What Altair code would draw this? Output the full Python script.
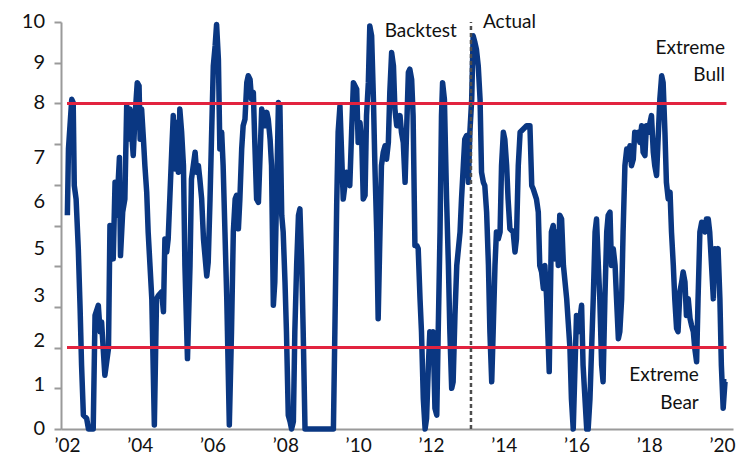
import altair as alt
import pandas as pd

# Sentiment score readings (decimal year, score 0-10)
years = [
    2002.01, 2002.04, 2002.13, 2002.17, 2002.20, 2002.25, 2002.31, 2002.36, 2002.40, 2002.45,
    2002.54, 2002.59, 2002.72, 2002.77, 2002.86, 2002.91, 2002.95, 2003.04, 2003.14, 2003.18,
    2003.23, 2003.27, 2003.32, 2003.36, 2003.44, 2003.47, 2003.53, 2003.59, 2003.64, 2003.68,
    2003.73, 2003.82, 2003.87, 2003.93, 2003.98, 2004.01, 2004.05, 2004.10, 2004.14, 2004.19,
    2004.23, 2004.33, 2004.40, 2004.46, 2004.51, 2004.60, 2004.65, 2004.69, 2004.74, 2004.78,
    2004.88, 2004.92, 2004.97, 2005.01, 2005.06, 2005.10, 2005.15, 2005.20, 2005.24, 2005.31,
    2005.38, 2005.42, 2005.52, 2005.56, 2005.61, 2005.65, 2005.70, 2005.75, 2005.84, 2005.88,
    2005.93, 2005.97, 2006.02, 2006.07, 2006.11, 2006.16, 2006.20, 2006.25, 2006.29, 2006.34,
    2006.39, 2006.46, 2006.52, 2006.57, 2006.62, 2006.66, 2006.71, 2006.75, 2006.80, 2006.84,
    2006.89, 2006.94, 2006.98, 2007.03, 2007.07, 2007.12, 2007.16, 2007.21, 2007.26, 2007.35,
    2007.44, 2007.49, 2007.53, 2007.58, 2007.62, 2007.67, 2007.71, 2007.81, 2007.85, 2007.90,
    2007.94, 2007.99, 2008.03, 2008.08, 2008.13, 2008.17, 2008.22, 2008.26, 2008.31, 2008.36,
    2008.40, 2008.45, 2008.49, 2008.54, 2009.32, 2009.36, 2009.41, 2009.45, 2009.50, 2009.59,
    2009.68, 2009.77, 2009.82, 2009.87, 2009.96, 2010.00, 2010.05, 2010.10, 2010.14, 2010.19,
    2010.23, 2010.28, 2010.32, 2010.37, 2010.42, 2010.46, 2010.51, 2010.55, 2010.60, 2010.64,
    2010.69, 2010.74, 2010.78, 2010.83, 2010.87, 2010.92, 2010.97, 2011.01, 2011.06, 2011.10,
    2011.15, 2011.19, 2011.24, 2011.29, 2011.33, 2011.38, 2011.42, 2011.47, 2011.51, 2011.56,
    2011.61, 2011.65, 2011.70, 2011.74, 2011.79, 2011.84, 2011.88, 2011.93, 2011.97, 2012.02,
    2012.06, 2012.11, 2012.16, 2012.20, 2012.25, 2012.29, 2012.32, 2012.37, 2012.43, 2012.48,
    2012.52, 2012.57, 2012.61, 2012.66, 2012.71, 2012.80, 2012.84, 2012.89, 2012.93, 2012.98,
    2013.03, 2013.07, 2013.12, 2013.16, 2013.21, 2013.25, 2013.30, 2013.35, 2013.39, 2013.44,
    2013.48, 2013.53, 2013.58, 2013.62, 2013.67, 2013.71, 2013.76, 2013.80, 2013.85, 2013.90,
    2013.94, 2013.99, 2014.03, 2014.08, 2014.12, 2014.17, 2014.26, 2014.31, 2014.35, 2014.40,
    2014.45, 2014.54, 2014.63, 2014.72, 2014.77, 2014.81, 2014.90, 2014.95, 2014.99, 2015.04,
    2015.09, 2015.13, 2015.18, 2015.25, 2015.31, 2015.36, 2015.41, 2015.45, 2015.50, 2015.54,
    2015.59, 2015.64, 2015.73, 2015.82, 2015.86, 2015.91, 2015.96, 2016.00, 2016.05, 2016.14,
    2016.18, 2016.28, 2016.32, 2016.37, 2016.46, 2016.51, 2016.55, 2016.60, 2016.64, 2016.69,
    2016.73, 2016.78, 2016.83, 2016.87, 2016.92, 2016.96, 2017.01, 2017.06, 2017.10, 2017.15,
    2017.19, 2017.24, 2017.28, 2017.33, 2017.38, 2017.42, 2017.47, 2017.51, 2017.56, 2017.60,
    2017.65, 2017.70, 2017.74, 2017.79, 2017.83, 2017.88, 2017.92, 2017.97, 2018.02, 2018.06,
    2018.11, 2018.15, 2018.20, 2018.25, 2018.29, 2018.34, 2018.38, 2018.43, 2018.47, 2018.52,
    2018.57, 2018.61, 2018.66, 2018.70, 2018.75, 2018.79, 2018.84, 2018.89, 2018.93, 2018.98,
    2019.02, 2019.07, 2019.12, 2019.16, 2019.21, 2019.25, 2019.30, 2019.34, 2019.39, 2019.44,
    2019.48, 2019.53, 2019.57, 2019.62, 2019.66, 2019.71, 2019.76, 2019.80, 2019.85, 2019.89,
    2019.94, 2019.98, 2020.03, 2020.08, 2020.12,
]
scores = [
    5.25, 6.88, 8.10, 8.02, 5.98, 5.65, 4.43, 2.96, 1.57, 0.34,
    0.26, 0.00, 0.00, 2.79, 3.04, 2.39, 2.63, 1.32, 1.98, 5.00,
    4.92, 4.18, 6.06, 5.25, 6.67, 4.26, 5.33, 5.65, 7.94, 7.12,
    7.86, 6.72, 7.70, 8.51, 8.43, 7.12, 7.86, 7.12, 6.47, 5.82,
    4.84, 3.20, 0.10, 3.20, 3.28, 3.37, 2.88, 4.67, 4.35, 4.67,
    6.88, 7.70, 6.39, 7.53, 6.31, 7.86, 7.29, 6.47, 4.02, 1.73,
    4.02, 6.14, 6.80, 6.31, 6.47, 6.14, 5.65, 4.67, 3.76, 4.10,
    5.65, 7.12, 8.92, 9.41, 9.94, 9.08, 6.88, 7.29, 6.47, 4.84,
    3.20, 0.10, 2.39, 4.84, 5.65, 5.74, 4.92, 5.65, 6.88, 7.45,
    7.61, 8.51, 8.68, 8.59, 8.10, 8.27, 7.04, 5.65, 5.57, 7.86,
    7.45, 7.78, 7.61, 7.12, 6.47, 3.04, 3.61, 8.02, 7.94, 5.25,
    4.84, 3.61, 2.39, 0.34, 0.18, 0.00, 0.18, 2.39, 4.02, 5.25,
    5.41, 4.02, 2.39, 0.00, 0.00, 2.39, 5.49, 7.29, 7.94, 5.65,
    6.31, 5.98, 7.29, 8.51, 8.35, 7.04, 7.53, 7.04, 5.65, 5.74,
    7.70, 8.51, 9.90, 9.66, 8.10, 6.47, 4.84, 2.71, 4.84, 6.47,
    6.80, 6.96, 6.63, 7.04, 8.27, 9.25, 8.92, 7.86, 7.45, 7.45,
    7.70, 7.29, 7.04, 6.06, 7.29, 8.76, 8.84, 8.59, 7.70, 4.51,
    4.51, 4.43, 3.20, 2.39, 0.75, 0.00, 0.26, 1.57, 2.39, 2.30,
    2.39, 0.51, 0.34, 2.39, 4.84, 7.70, 8.51, 8.10, 5.65, 4.02,
    2.39, 1.00, 1.16, 2.79, 4.02, 4.84, 5.65, 6.47, 7.12, 7.21,
    6.06, 7.29, 8.10, 9.66, 9.49, 9.33, 8.92, 8.10, 6.31, 6.06,
    5.98, 5.33, 4.02, 2.39, 1.16, 2.39, 4.02, 4.84, 4.67, 4.84,
    6.47, 7.29, 7.12, 6.47, 5.65, 4.92, 4.84, 4.35, 4.67, 6.47,
    7.29, 7.37, 7.45, 7.45, 5.98, 5.90, 5.65, 5.33, 4.02, 3.86,
    3.45, 4.02, 3.20, 1.41, 4.84, 5.00, 4.18, 4.84, 4.02, 5.25,
    5.16, 4.02, 3.20, 1.98, 0.75, 0.00, 1.57, 2.79, 2.39, 3.04,
    1.57, 0.00, 0.00, 0.75, 3.20, 4.84, 5.16, 4.02, 3.20, 1.57,
    1.16, 3.20, 4.84, 5.25, 5.33, 4.02, 4.43, 4.02, 3.20, 2.22,
    2.39, 3.20, 4.84, 6.47, 6.88, 6.63, 6.96, 6.47, 6.63, 7.29,
    7.12, 7.29, 7.04, 7.45, 6.80, 6.72, 7.45, 7.29, 7.53, 7.70,
    6.80, 6.47, 6.23, 7.29, 8.10, 8.68, 8.51, 7.29, 6.06, 5.65,
    5.82, 4.84, 4.02, 3.20, 2.47, 2.39, 3.37, 3.61, 3.86, 3.61,
    2.79, 3.20, 2.71, 2.55, 2.39, 1.98, 1.65, 3.20, 4.84, 5.08,
    5.00, 4.84, 5.16, 5.16, 4.84, 4.02, 3.20, 4.43, 4.35, 4.43,
    3.20, 1.57, 0.51, 1.16, 1.16,
]

bull_level = 8
bear_level = 2
level_years = [2002.0, 2020.12]
split_year = 2013.10

y_label_text = ["10", "9", "8", "7", "6", "5", "3", "2", "1", "0"]
y_label_pos = [10, 9, 8, 6.66, 5.58, 4.43, 3.28, 2.15, 1.08, 0]
y_tick_values = list(range(0, 11))
x_tick_years = list(range(2002, 2021, 2))

note_right_text = ["Backtest", "Extreme", "Bull", "Extreme", "Bear"]
note_right_year = [2012.71, 2020.08, 2020.08, 2019.36, 2019.36]
note_right_score = [9.77, 9.35, 8.69, 1.32, 0.64]
note_left_text = ["Actual"]
note_left_year = [2013.43]
note_left_score = [9.99]

FONT = "Lato"
BLUE = "#0a3782"
RED = "#e2233f"
AXIS_GREY = "#9a9a9a"
TEXT = "#111111"

n = min(len(years), len(scores))
df = pd.DataFrame({"year": years[:n], "score": scores[:n]})
levels = pd.DataFrame({
    "year": level_years * 2,
    "score": [bull_level] * 2 + [bear_level] * 2,
    "band": ["bull"] * 2 + ["bear"] * 2,
})
split = pd.DataFrame({"year": [split_year], "score": [0], "hi": [10]})
ylabels = pd.DataFrame({"label": y_label_text, "score": y_label_pos})
notes_r = pd.DataFrame({"year": note_right_year, "score": note_right_score, "text": note_right_text})
notes_l = pd.DataFrame({"year": note_left_year, "score": note_left_score, "text": note_left_text})

xscale = alt.Scale(domain=[2001.835, 2020.30], nice=False, zero=False)
yscale = alt.Scale(domain=[0, 10], nice=False, zero=True)

x_axis = alt.Axis(
    values=x_tick_years,
    labelExpr="'\u2019' + slice(toString(datum.value), 2)",
    ticks=False, tickSize=0, labelPadding=7,
    domainColor=AXIS_GREY, domainWidth=2, grid=False,
    labelFont=FONT, labelFontSize=19, labelColor=TEXT,
    labelFlush=False, labelOverlap=False, title=None)
y_axis = alt.Axis(
    values=y_tick_values, labels=False, tickSize=7, tickWidth=2,
    tickColor=AXIS_GREY, domainColor=AXIS_GREY, domainWidth=2,
    grid=False, title=None)

X = alt.X("year:Q", scale=xscale, axis=x_axis, title=None)
Y = alt.Y("score:Q", scale=yscale, axis=y_axis, title=None)

line = alt.Chart(df).mark_line(color=BLUE, strokeWidth=5.5, strokeJoin="round").encode(x=X, y=Y)

level_lines = alt.Chart(levels).mark_line(color=RED, strokeWidth=3).encode(
    x=X, y=Y, detail="band:N")

split_rule = alt.Chart(split).mark_rule(color="#4d4d4d", strokeWidth=2.5, strokeDash=[4, 3]).encode(
    x=X, y=Y, y2="hi:Q")

ylab = alt.Chart(ylabels).mark_text(
    align="right", baseline="middle", font=FONT, fontSize=20, color=TEXT, dx=-16
).encode(x=alt.value(0), y=Y, text="label:N")

txt_r = alt.Chart(notes_r).mark_text(
    align="right", baseline="middle", font=FONT, fontSize=19, color=TEXT
).encode(x=X, y=Y, text="text:N")

txt_l = alt.Chart(notes_l).mark_text(
    align="left", baseline="middle", font=FONT, fontSize=19, color=TEXT
).encode(x=X, y=Y, text="text:N")

chart = alt.layer(line, level_lines, split_rule, ylab, txt_r, txt_l).properties(
    width=672,
    height=407,
    autosize=alt.AutoSizeParams(type="none"),
    padding={"left": 53, "top": 14, "right": 14, "bottom": 32},
    background="white",
).configure_view(stroke=None)

chart.save("out.html", embed_options={"renderer": "svg", "actions": False})
